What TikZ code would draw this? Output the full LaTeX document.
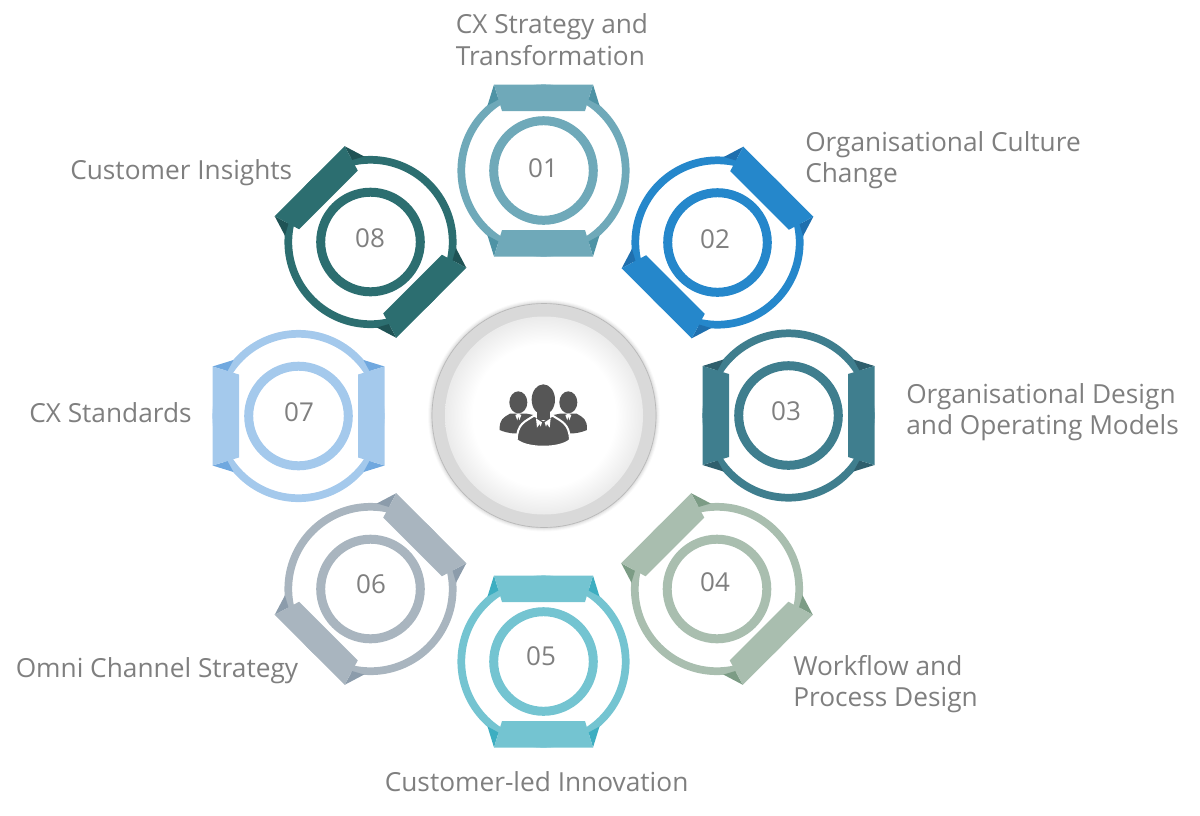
\documentclass[tikz,border=0pt]{standalone}
\usepackage{fontspec}
\setmainfont{Open Sans}
\definecolor{c1}{HTML}{6FA9B9}\definecolor{d1}{HTML}{4E93A5}
\definecolor{c2}{HTML}{2587CB}\definecolor{d2}{HTML}{1F6FAE}
\definecolor{c3}{HTML}{3F7E8E}\definecolor{d3}{HTML}{2F5F6D}
\definecolor{c4}{HTML}{A9BEAF}\definecolor{d4}{HTML}{7C9C85}
\definecolor{c5}{HTML}{74C4D1}\definecolor{d5}{HTML}{3DAEC1}
\definecolor{c6}{HTML}{A9B5BF}\definecolor{d6}{HTML}{8C9CAB}
\definecolor{c7}{HTML}{A4C9EC}\definecolor{d7}{HTML}{70A8DF}
\definecolor{c8}{HTML}{2C6E70}\definecolor{d8}{HTML}{1F5355}
\definecolor{txt}{HTML}{7F7F7F}
\definecolor{iconc}{HTML}{565656}
\pgfdeclareradialshading{hubshade}{\pgfpointorigin}{color(0bp)=(white);color(18bp)=(white);color(25bp)=(black!8);color(50bp)=(black!8)}
\tikzset{
  caption/.style={font=\fontsize{19.7pt}{23.6pt}\selectfont,text=txt,align=left,inner sep=0pt,anchor=west},
  numeral/.style={font=\fontsize{19.5pt}{24pt}\selectfont,text=txt,inner sep=0pt}
}
\begin{document}
\begin{tikzpicture}[x=0.75pt,y=-0.75pt]
\useasboundingbox (0,0) rectangle (1200,815);
% badges
\foreach \i/\cx/\cy/\rot/\nx/\ny in {1/543.5/170.5/0/543/168, 2/717.5/242.5/-45/715/239, 3/788.5/415.5/90/786/411, 4/717/589/45/715/582, 5/543.5/661.5/0/541/656, 6/370.5/589/-45/371/584, 7/298.5/416/90/299/412, 8/370.5/242/45/370/238}{
  \draw[c\i,line width=5.8pt] (\cx,\cy) circle[radius=82.2];
  \draw[c\i,line width=6.75pt] (\cx,\cy) circle[radius=49.8];
  \begin{scope}[shift={(\cx,\cy)},rotate=\rot]
    \foreach \s in {1,-1}{
      \begin{scope}[yscale=\s]
        \foreach \t in {1,-1}{
          \begin{scope}[xscale=\t]
            \fill[c\i] (-56,-65) -- (-45,-71) -- (-43,-66) -- (-50,-62.5) -- cycle;
            \fill[d\i] (-49.5,-86) -- (-56,-65) -- (-45,-71) -- cycle;
          \end{scope}
        }
        \fill[c\i] (-49.5,-86) -- (49.5,-86) -- (41.5,-59.5) -- (-41.5,-59.5) -- cycle;
      \end{scope}
    }
  \end{scope}
  \node[numeral] (n\i) at (\nx,\ny) {0\i};
}
% hub
\foreach \r/\o in {116/0.02,115/0.03,114/0.04,113/0.06}{
  \fill[black,opacity=\o] (544,415.5) circle[radius=\r];
}
\fill[black!15,draw=black!28,line width=0.5pt] (544,415.5) circle[radius=112];
\shade[shading=hubshade] (544,415.5) circle[radius=99];
% icon
\begin{scope}[shift={(490,375)},scale=0.3333]
  \foreach \m in {1,-1}{
    \begin{scope}[shift={(160,0)},xscale=\m]
      \fill[iconc] (-75,82) ellipse[x radius=27,y radius=33];
      \fill[iconc] (-100,116) .. controls (-120,128) and (-132,132) .. (-131,165) .. controls (-110,174) and (-85,178) .. (-60,174) -- (-30,120) -- (-50,116) -- cycle;
      \fill[white] (-84,120) -- (-78,136) -- (-75,124) -- (-72,136) -- (-66,120) -- (-75,116) -- cycle;
    \end{scope}
  }
  \filldraw[fill=iconc,draw=white,line width=1.5pt] (132,122) .. controls (105,140) and (82,145) .. (80,195) .. controls (110,222) and (210,222) .. (240,195) .. controls (238,145) and (215,140) .. (188,122) -- (160,135) -- cycle;
  \fill[iconc] (160,74) ellipse[x radius=35,y radius=46];
  \fill[iconc] (140,100) rectangle (180,135);
  \foreach \m in {1,-1}{
    \begin{scope}[shift={(160,0)},xscale=\m]
      \fill[white] (-22,130) -- (-19,158) -- (-11,147) -- (-8,155) -- (-4,142) -- cycle;
    \end{scope}
  }
\end{scope}
% labels
\node[caption] (l1) at (455.5,39.5) {CX Strategy and\\Transformation};
\node[caption] (l2) at (805,160) {Organisational Culture\\Change};
\node[caption] (l3) at (906,412) {Organisational Design\\and Operating Models};
\node[caption] (l4) at (793,684) {Workflow and\\Process Design};
\node[caption] (l5) at (384.5,782) {Customer-led Innovation};
\node[caption] (l6) at (15.5,670.5) {Omni Channel Strategy};
\node[caption] (l7) at (29,413) {CX Standards};
\node[caption] (l8) at (70,173) {Customer Insights};
\end{tikzpicture}
\end{document}
